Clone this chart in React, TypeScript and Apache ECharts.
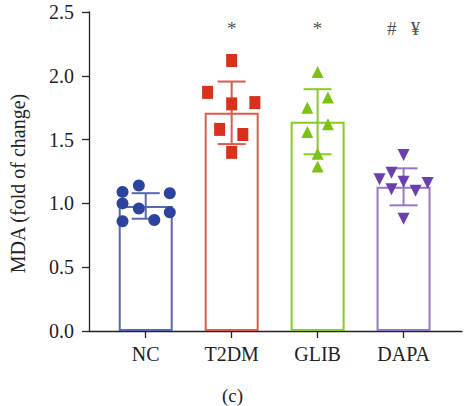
import React, { useEffect, useRef } from "react";
import * as echarts from "echarts";

const categories = ["NC", "T2DM", "GLIB", "DAPA"];
const means = [0.98, 1.71, 1.64, 1.13];
const sds = [0.1, 0.245, 0.255, 0.145];
const significance = ["", "*", "*", "#   ¥"];

// [offset within group, value]
const ncPoints = [
  [-0.27, 1.09], [-0.08, 1.14], [0.28, 1.08], [-0.27, 1.0],
  [-0.08, 0.96], [0.28, 0.93], [-0.27, 0.86], [0.1, 0.87],
];
const t2dmPoints = [
  [0, 2.12], [-0.28, 1.87], [0, 1.78], [0.27, 1.79],
  [-0.14, 1.58], [0.13, 1.54], [0, 1.4],
];
const glibPoints = [
  [0, 2.03], [0.12, 1.83], [-0.12, 1.75], [0.12, 1.62],
  [-0.12, 1.56], [0, 1.39], [0, 1.29],
];
const dapaPoints = [
  [0, 1.38], [-0.28, 1.19], [-0.14, 1.24], [0, 1.17],
  [0.28, 1.16], [-0.14, 1.11], [0.14, 1.1], [0, 0.88],
];

const pointColors = ["#2c449e", "#d8321f", "#7cc212", "#6a3fae"];
const barColors = ["#5468b4", "#e05a4c", "#86cc22", "#9676c8"];
const FONT = "'Liberation Serif', 'DejaVu Serif', serif";

export default function App() {
  const ref = useRef<HTMLDivElement>(null);
  useEffect(() => {
    if (!ref.current) return;
    const chart = echarts.init(ref.current, null, { renderer: "svg" });
    const groups = [ncPoints, t2dmPoints, glibPoints, dapaPoints];
    const symbols = ["circle", "rect", "triangle", "triangle"];
    const sizes: any[] = [12, [11, 13], [12, 12], [12, 12]];
    const rotates = [0, 0, 0, 180];

    const scatterSeries = groups.map((pts, gi) => ({
      type: "scatter",
      z: 5,
      symbol: symbols[gi],
      symbolSize: sizes[gi],
      symbolRotate: rotates[gi],
      itemStyle: { color: pointColors[gi], opacity: 1 },
      data: pts.map((p) => [gi + p[0], p[1]]),
    }));

    const option: any = {
      animation: false,
      grid: { left: 87, right: 3, top: 12, bottom: 75, containLabel: false },
      title: {
        text: "(c)",
        left: "center",
        top: 386,
        textStyle: { fontFamily: FONT, fontSize: 19, fontWeight: "normal", color: "#222" },
        padding: 0,
      },
      xAxis: {
        type: "value",
        min: -0.66,
        max: 3.68,
        splitLine: { show: false },
        axisLine: { show: true, onZero: false, lineStyle: { color: "#222", width: 1.3 } },
        axisTick: { show: true, customValues: [0, 1, 2, 3], length: 7, lineStyle: { color: "#222", width: 1.3 } },
        axisLabel: {
          customValues: [0, 1, 2, 3],
          formatter: (v: number) => categories[Math.round(v)] ?? "",
          fontFamily: FONT,
          fontSize: 20,
          color: "#222",
          margin: 13,
        },
      },
      yAxis: {
        type: "value",
        min: 0,
        max: 2.5,
        interval: 0.5,
        name: "MDA (fold of change)",
        nameLocation: "middle",
        nameGap: 61,
        nameTextStyle: { fontFamily: FONT, fontSize: 20, color: "#222", padding: [0, 24, 0, 0] },
        splitLine: { show: false },
        axisLine: { show: true, onZero: false, lineStyle: { color: "#222", width: 1.3 } },
        axisTick: { show: true, length: 7, lineStyle: { color: "#222", width: 1.3 } },
        axisLabel: {
          formatter: (v: number) => v.toFixed(1),
          fontFamily: FONT,
          fontSize: 20,
          color: "#222",
          margin: 15,
        },
      },
      series: [
        {
          type: "bar",
          barWidth: 54,
          z: 2,
          data: means.map((m, i) => ({
            value: [i, m],
            itemStyle: { color: "rgba(255,255,255,0)", borderColor: barColors[i], borderWidth: 2 },
          })),
        },
        {
          type: "custom",
          z: 3,
          data: means.map((m, i) => [i, m, sds[i]]),
          renderItem: (params: any, api: any) => {
            const x = api.value(0);
            const m = api.value(1);
            const sd = api.value(2);
            const top = api.coord([x, m + sd]);
            const bot = api.coord([x, m - sd]);
            const hw = 14;
            const color = barColors[params.dataIndex];
            const style = { stroke: color, lineWidth: 2 };
            return {
              type: "group",
              children: [
                { type: "line", shape: { x1: top[0], y1: top[1], x2: bot[0], y2: bot[1] }, style },
                { type: "line", shape: { x1: top[0] - hw, y1: top[1], x2: top[0] + hw, y2: top[1] }, style },
                { type: "line", shape: { x1: bot[0] - hw, y1: bot[1], x2: bot[0] + hw, y2: bot[1] }, style },
              ],
            };
          },
        },
        ...scatterSeries,
        {
          type: "scatter",
          symbolSize: 0,
          silent: true,
          data: significance.map((s, i) => ({ value: [i, 2.37], name: s })),
          label: {
            show: true,
            position: "inside",
            formatter: (p: any) => p.name,
            fontFamily: FONT,
            fontSize: 19,
            color: "#222",
          },
        },
      ],
    };
    chart.setOption(option);
    return () => chart.dispose();
  }, []);
  return (
    <div
      ref={ref}
      style={{ position: "fixed", left: 0, top: 0, width: 465, height: 406, background: "#fff" }}
    />
  );
}
